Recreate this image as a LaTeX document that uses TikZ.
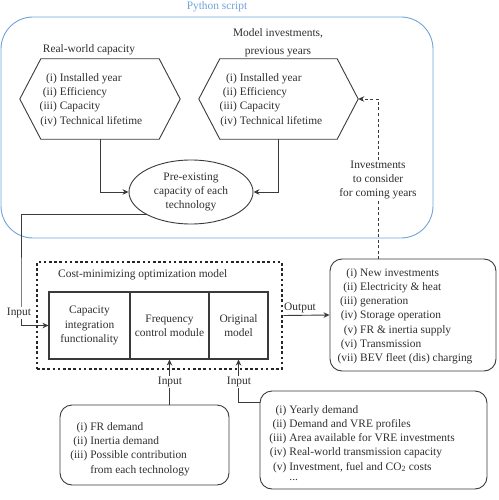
\documentclass[tikz,border=0pt]{standalone}
\usepackage{fontspec}
\setmainfont{Liberation Serif}
\usetikzlibrary{arrows.meta,calc,shapes.geometric}
\definecolor{ln}{HTML}{3A3A3A}
\definecolor{tx}{HTML}{2E2E2E}
\definecolor{pyblue}{HTML}{6FA3DC}
\newcommand{\itemlist}[1]{\begin{tabular}{@{}r@{\hspace{3pt}}l@{}}#1\end{tabular}}
\begin{document}
\begin{tikzpicture}[x=1pt,y=-1pt,
  font=\fontsize{11.4}{14.2}\selectfont, text=tx,
  arr/.style={draw=ln, line width=0.9pt, -{Stealth[length=6pt,width=5.5pt]}},
  lbl/.style={inner sep=1pt, fill=white, align=center},
  hexline/.style={draw=ln, line width=0.9pt},
  roundbox/.style={draw=ln, line width=0.9pt, rounded corners=12pt, inner sep=0},
  cellbox/.style={draw=ln, line width=1.1pt, minimum height=67pt, align=center, inner sep=0}]
\useasboundingbox (0,0) rectangle (498,500);

% Python script frame
\node[draw=pyblue, line width=0.9pt, rounded corners=32pt, minimum width=432pt, minimum height=221pt, inner sep=0] (py) at (217,127.5) {};
\node[text=pyblue] (pylbl) at (217,7) {Python script};

% hexagons
\node[minimum width=160pt, minimum height=80pt, inner sep=0] (hex1) at (100,99) {};
\draw[hexline] (hex1.west) -- ([xshift=21pt]hex1.north west) -- ([xshift=-21pt]hex1.north east) -- (hex1.east) -- ([xshift=-21pt]hex1.south east) -- ([xshift=21pt]hex1.south west) -- cycle;
\node (hex1t) at (91,100) {\itemlist{(i)&Installed year\\(ii)&Efficiency\\(iii)&Capacity\\(iv)&Technical lifetime}};
\node (rwl) at (89,50) {Real-world capacity};

\node[minimum width=159pt, minimum height=80pt, inner sep=0] (hex2) at (278.5,99) {};
\draw[hexline] (hex2.west) -- ([xshift=21pt]hex2.north west) -- ([xshift=-21pt]hex2.north east) -- (hex2.east) -- ([xshift=-21pt]hex2.south east) -- ([xshift=21pt]hex2.south west) -- cycle;
\node (hex2t) at (271,100) {\itemlist{(i)&Installed year\\(ii)&Efficiency\\(iii)&Capacity\\(iv)&Technical lifetime}};
\node[align=center, font=\fontsize{11.4}{18}\selectfont] (mil) at (278,43) {Model investments,\\previous years};

% ellipse
\node[draw=ln, ellipse, line width=0.9pt, minimum width=124pt, minimum height=64pt, inner sep=0, align=center] (ell) at (191,192) {Pre-existing\\capacity of each\\technology};
\draw[arr] (hex1.south) |- (ell.west);
\draw[arr] (hex2.south) |- (ell.east);

% optimization model
\node[draw=black!85, line width=2.6pt, dash pattern=on 2.6pt off 2.6pt, minimum width=245pt, minimum height=107pt, inner sep=0] (opt) at (159.5,315.5) {};
\node[anchor=west, inner sep=0] (optt) at (58,275) {Cost-minimizing optimization model};
\node[cellbox, minimum width=81pt] (cell1) at (89.5,325.5) {Capacity\\integration\\functionality};
\node[cellbox, minimum width=79pt] (cell2) at (169.5,325.5) {Frequency\\control module};
\node[cellbox, minimum width=59pt] (cell3) at (238.5,325.5) {Original\\model};

% input from ellipse
\coordinate (bend) at (21,300);
\draw[arr] (ell.south west) -| (bend) |- (cell1.west);
\node[lbl] (in1) at (19,313) {Input};

% output box
\node[roundbox, minimum width=166pt, minimum height=112pt] (out) at (413,315) {};
\node (outt) at (405,316) {\itemlist{(i)&New investments\\(ii)&Electricity \& heat\\(iii)&generation\\(iv)&Storage operation\\(v)&FR \& inertia supply\\(vi)&Transmission\\(vii)&BEV fleet (dis) charging}};
\draw[arr] (opt.east) -- (out.west);
\node[anchor=south west, inner sep=1pt] (outl) at (283,314) {Output};

% dashed feedback
\coordinate (dstart) at (378,259);
\draw[arr, dash pattern=on 3pt off 2.5pt] (dstart) |- (hex2.east);
\node[lbl] (invlbl) at (378,180) {Investments\\to consider\\for coming years};

% bottom-left input box
\node[roundbox, minimum width=169pt, minimum height=80pt] (fr) at (144.5,445) {};
\node (frt) at (130,449) {\itemlist{(i)&FR demand\\(ii)&Inertia demand\\(iii)&Possible contribution\\&from each technology}};
\draw[arr] (cell2.south |- fr.north) -- (cell2.south);
\node[lbl] (in2) at (170,382) {Input};

% bottom-right input box
\node[roundbox, minimum width=227pt, minimum height=98pt] (vre) at (373.5,440) {};
\node (vret) at (362,444) {\itemlist{(i)&Yearly demand\\(ii)&Demand and VRE profiles\\(iii)&Area available for VRE investments\\(iv)&Real-world transmission capacity\\(v)&Investment, fuel and CO\textsubscript{2} costs\\[-4pt]&...}};
\coordinate (vrein) at ($(vre.north west)+(0,12)$);
\draw[arr] (vrein) -| (cell3.south);
\node[lbl] (in3) at (239,382) {Input};
\end{tikzpicture}
\end{document}
